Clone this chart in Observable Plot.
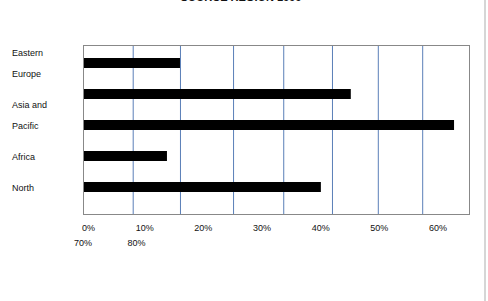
<!DOCTYPE html>
<html>
<head>
<meta charset="utf-8">
<script src="https://cdn.jsdelivr.net/npm/d3@7"></script>
<script src="https://cdn.jsdelivr.net/npm/@observablehq/plot@0.6"></script>
<style>
  html, body { margin: 0; padding: 0; background: #fff; }
  #wrap { position: relative; width: 488px; height: 301px; overflow: hidden; background: #fff;
          font-family: "Liberation Sans", Arial, sans-serif; color: #111; }
  #edge { position: absolute; left: 484px; top: 0; width: 2px; height: 301px; background: #d6d6d6; }
  #title { position: absolute; left: 0; width: 482px; top: -9px; text-align: center;
           font-weight: bold; font-size: 11px; line-height: 13px; }
  #chart { position: absolute; left: 0; top: 0; }
  #labels { position: absolute; left: 12px; top: 43px; font-size: 9px; line-height: 21px; }
  #labels .grp { margin-bottom: 10px; }
  #ticks { position: absolute; left: 74px; top: 221px; width: 373px; font-size: 9px; line-height: 15px;
           text-align: justify; text-indent: 8px; word-spacing: 33px; }
</style>
</head>
<body>
<div id="wrap">
  <div id="edge"></div>
  <div id="chart"></div>
  <div id="title"></div>
  <div id="labels"></div>
  <div id="ticks"></div>
</div>
<script>
const title = "SOURCE REGION 1999";
const categories = ["Eastern Europe", "Europe", "Asia and Pacific", "Africa", "North America"];
const values = [20.1, 55.5, 76.9, 17.4, 49.3];
const gridPositions = [10.3, 20.1, 31.1, 41.5, 51.6, 61.1, 70.3];
const labelGroups = [["Eastern", "Europe"], ["Asia and", "Pacific"], ["Africa"], ["North"]];
const tickLabels = ["0%", "10%", "20%", "30%", "40%", "50%", "60%", "70%", "80%"];

const data = categories.map((c, i) => ({region: c, value: values[i]}));

const chart = Plot.plot({
  width: 488,
  height: 216,
  marginLeft: 83,
  marginRight: 19,
  marginTop: 45,
  marginBottom: 2,
  x: {domain: [0, 80], axis: null},
  y: {domain: categories, range: [45, 204], paddingInner: 0.685, paddingOuter: 0.35, axis: null},
  marks: [
    Plot.ruleX(gridPositions, {stroke: "#5a7fb8", strokeWidth: 1}),
    Plot.barX(data, {x: "value", y: "region", fill: "#000"}),
    Plot.frame({stroke: "#888"})
  ]
});
document.getElementById("chart").appendChild(chart);
document.getElementById("title").textContent = title;

const lab = document.getElementById("labels");
labelGroups.forEach(g => {
  const d = document.createElement("div");
  d.className = "grp";
  g.forEach(line => {
    const l = document.createElement("div");
    l.textContent = line;
    d.appendChild(l);
  });
  lab.appendChild(d);
});
document.getElementById("ticks").textContent = tickLabels.join(" ");
</script>
</body>
</html>
